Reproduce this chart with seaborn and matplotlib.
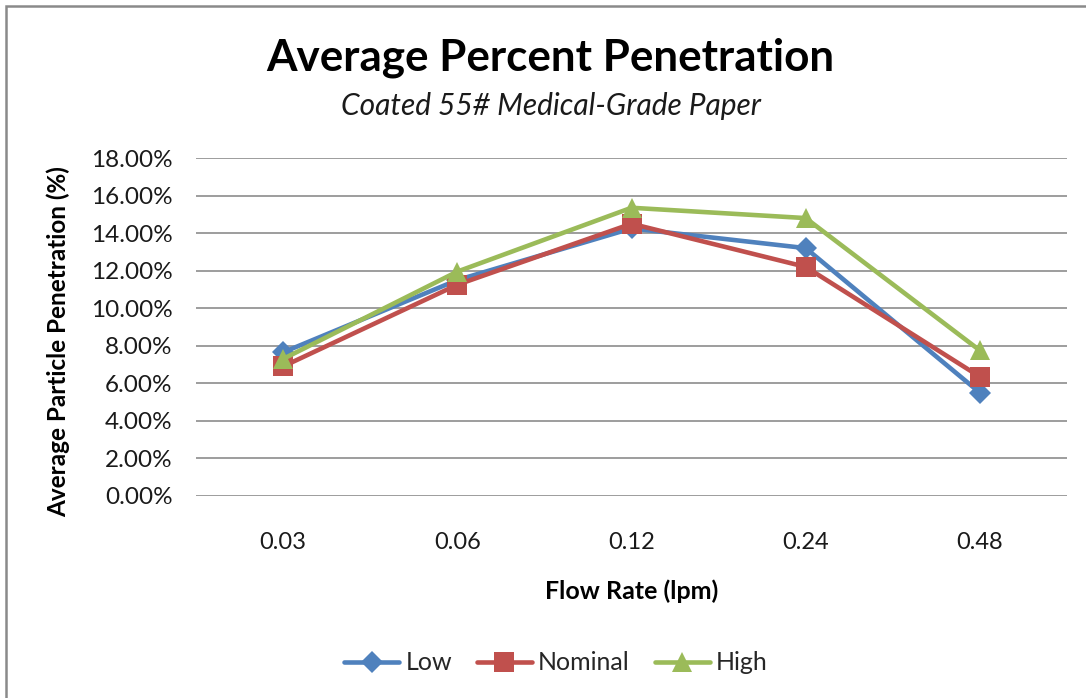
import matplotlib
matplotlib.use("Agg")
import matplotlib.pyplot as plt
import seaborn as sns
import pandas as pd
from matplotlib.patches import Rectangle
from matplotlib.ticker import FuncFormatter

flow_rates = ["0.03", "0.06", "0.12", "0.24", "0.48"]
low = [0.0765, 0.1150, 0.1425, 0.1320, 0.0550]
nominal = [0.0690, 0.1125, 0.1450, 0.1220, 0.0635]
high = [0.0730, 0.1195, 0.1535, 0.1480, 0.0775]
series_names = ["Low", "Nominal", "High"]
colors = ["#4F81BD", "#C0504D", "#9BBB59"]
markers = ["D", "s", "^"]
marker_sizes = [11, 14, 14]

sns.set_theme(style="white")
plt.rcParams["font.family"] = ["Lato", "DejaVu Sans"]

df = pd.DataFrame({
    "Flow Rate": flow_rates * 3,
    "Value": low + nominal + high,
    "Series": [s for s in series_names for _ in flow_rates],
})

fig = plt.figure(figsize=(10.86, 6.98), dpi=100)
fig.patch.set_facecolor("white")
ax = fig.add_axes([196/1086, 1-496/698, (1067-196)/1086, (496-158)/698])

for name, c, m, ms in zip(series_names, colors, markers, marker_sizes):
    sub = df[df["Series"] == name]
    sns.lineplot(data=sub, x="Flow Rate", y="Value", ax=ax, color=c, marker=m,
                 markersize=ms, markeredgewidth=0, linewidth=3.3, label=name,
                 sort=False)

ax.set_xlim(-0.5, 4.5)
ax.set_ylim(0, 0.18)
ax.set_yticks([i * 0.02 for i in range(10)])
ax.yaxis.set_major_formatter(FuncFormatter(lambda v, p: f"{v*100:.2f}%"))
ax.grid(axis="y", color="#8c8c8c", linewidth=1.2)
ax.grid(axis="x", visible=False)
ax.set_axisbelow(True)
for s in ax.spines.values():
    s.set_visible(False)
ax.tick_params(axis="y", length=0, pad=17, labelsize=17.5, labelcolor="#1a1a1a")
ax.tick_params(axis="x", length=0, pad=26, labelsize=17, labelcolor="#1a1a1a")

ax.set_xlabel("Flow Rate (lpm)", fontsize=18, fontweight="bold", labelpad=19, color="black")
ax.set_ylabel("Average Particle Penetration (%)", fontsize=17.5, fontweight="bold", color="black")
ax.yaxis.set_label_coords((70-196)/871, (496-342)/338)

fig.text(550/1086, 1-58/698, "Average Percent Penetration", fontsize=31.7, fontweight="bold",
         ha="center", va="center", color="black")
fig.text(551/1086, 1-106/698, "Coated 55# Medical-Grade Paper", fontsize=21.5, style="italic",
         ha="center", va="center", color="#1a1a1a")

leg = ax.legend(loc="center", bbox_to_anchor=(556/1086, 1-663/698), bbox_transform=fig.transFigure,
                ncol=3, frameon=False, fontsize=18, handlelength=2.2, handletextpad=0.25,
                columnspacing=1.0)

fig.add_artist(Rectangle((6/1086, -0.05), 1.2, 1.05 - 6/698, transform=fig.transFigure,
                         fill=False, edgecolor="#8a8a8a", linewidth=1.8))

fig.savefig("out.png", dpi=100, facecolor="white")
